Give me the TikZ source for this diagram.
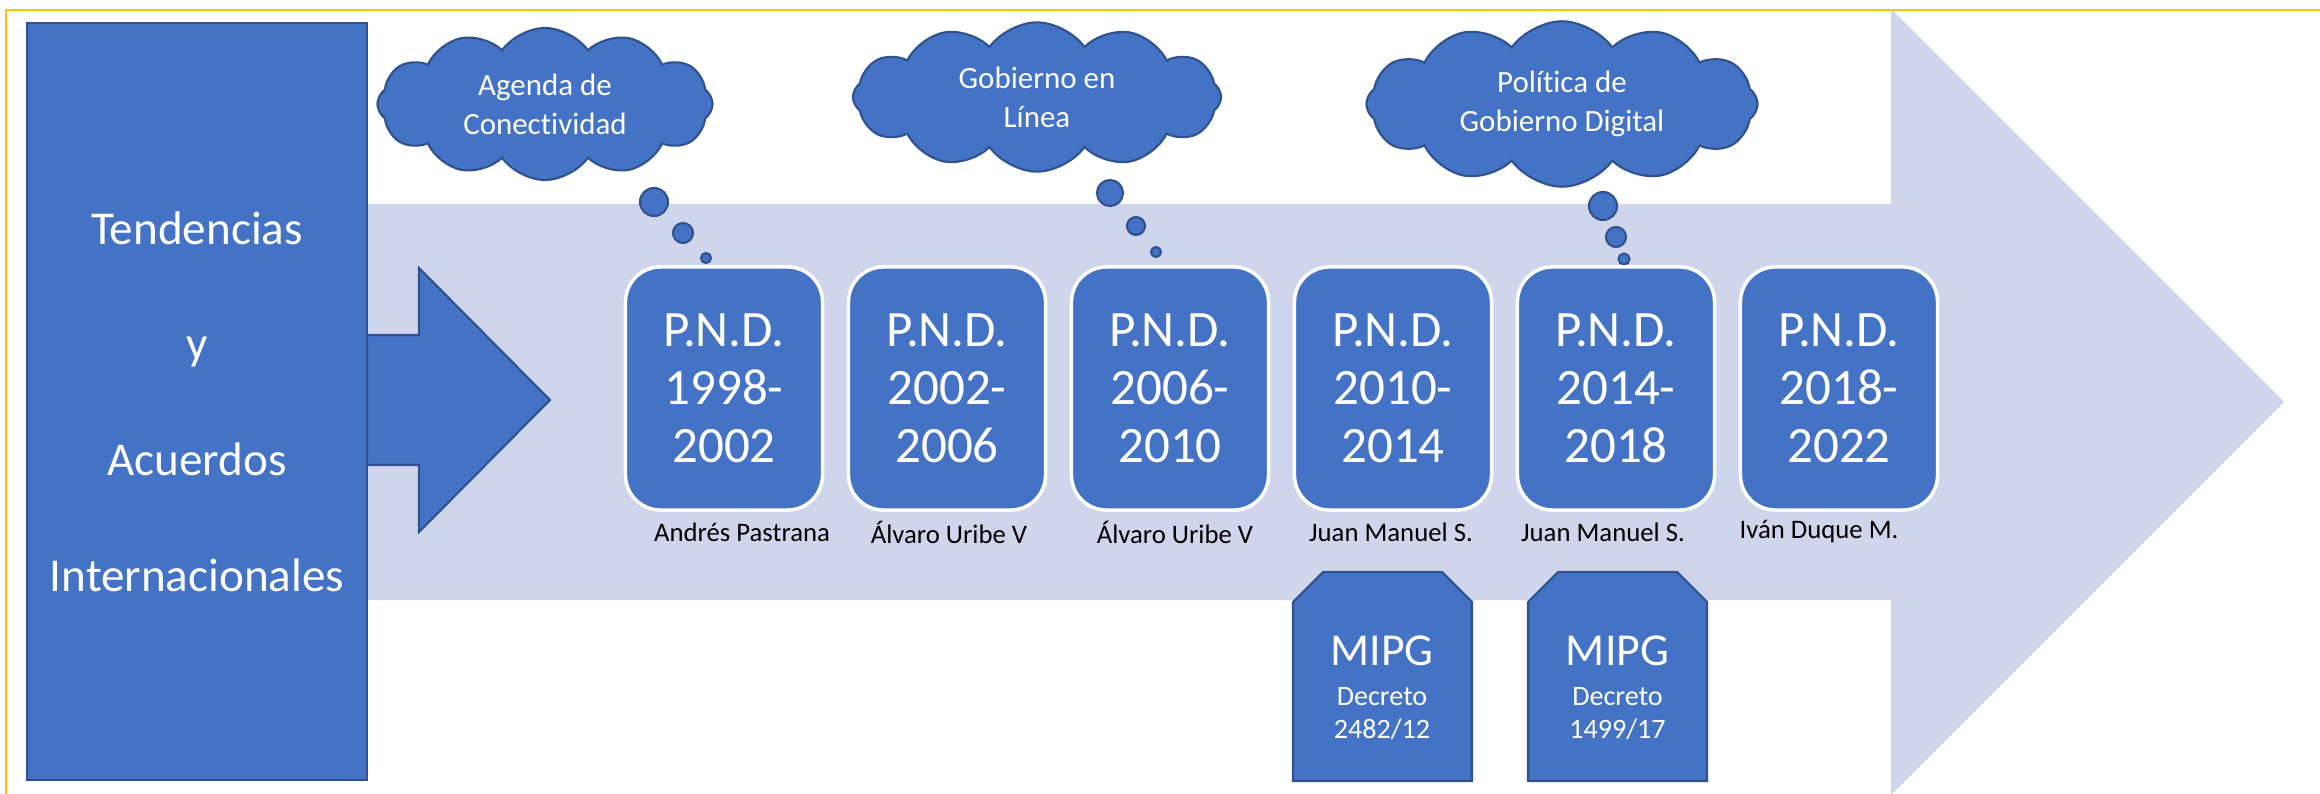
\documentclass[tikz,border=0pt]{standalone}
\usepackage{fontspec}
\setmainfont{Carlito}[Ligatures=NoCommon]
\usetikzlibrary{shapes.symbols}
\definecolor{boxblue}{HTML}{4472C4}
\definecolor{edgeblue}{HTML}{2F528F}
\definecolor{paleblue}{HTML}{CFD5EA}
\definecolor{framegold}{HTML}{FFC000}

\begin{document}
\begin{tikzpicture}[x=0.01cm, y=-0.01cm,
    plan/.style={draw=white, line width=1pt, fill=boxblue, rounded corners=0.35cm,
      minimum width=1.97cm, minimum height=2.43cm, text=white, align=center,
      font=\fontsize{14.5}{16.5}\selectfont},
    who/.style={font=\fontsize{7.6}{9}\selectfont},
    thought/.style={cloud, cloud puffs=12, cloud puff arc=110, cloud ignores aspect,
      draw=edgeblue, line width=0.6pt, fill=boxblue, text=white, align=center,
      font=\fontsize{8.8}{11.1}\selectfont},
    bubble/.style={circle, draw=edgeblue, line width=0.6pt, fill=boxblue, inner sep=0pt},
    decree/.style={draw=edgeblue, line width=0.6pt, fill=boxblue},
    decreetext/.style={text=white, align=center, font=\fontsize{8}{9.4}\selectfont}]
  \useasboundingbox (0,0) rectangle (2320,794);

  \def \Plans {
    1/724/1998-/2002/742/Andrés Pastrana,
    2/947/2002-/2006/949/Álvaro Uribe V,
    3/1170/2006-/2010/1175/Álvaro Uribe V,
    4/1393/2010-/2014/1391/Juan Manuel S.,
    5/1616/2014-/2018/1603/Juan Manuel S.,
    6/1839/2018-/2022/1819/Iván Duque M.}
  \def \Clouds {
    agenda/545/104/3.35/1.52/Agenda de\\Conectividad,
    linea/1037/97/3.68/1.42/Gobierno en\\Línea,
    digital/1562/104/3.91/1.48/Política de\\Gobierno Digital}
  \def \Bubbles {
    a1/654/202/14, a2/683/233/10, a3/706/258/5,
    b1/1110/193/13, b2/1136/226/9, b3/1156/252/5,
    c1/1603/206/14, c2/1616/237/10, c3/1624/259/5.5}

  % marco
  \draw[framegold, line width=0.85pt] (6,794) -- (6,10) -- (2320,10);

  % flecha grande
  \fill[paleblue] (300,204) -- (1891,204) -- (1891,9) -- (2284,402)
    -- (1891,795) -- (1891,600) -- (300,600) -- cycle;

  \node[draw=edgeblue, line width=0.6pt, fill=boxblue, minimum width=3.4cm,
    minimum height=7.57cm, text=white, align=center,
    font=\fontsize{13.4}{32.9}\selectfont] (trends) at (197,401.5)
    {Tendencias\\y\\Acuerdos\\Internacionales};
  \filldraw[draw=edgeblue, line width=0.6pt, fill=boxblue] (367,335) -- (419,335)
    -- (419,268) -- (550,400) -- (419,532) -- (419,465) -- (367,465) -- cycle;

  \foreach \id / \x / \y / \w / \h / \t in \Clouds {
    \node[thought, minimum width=\w cm, minimum height=\h cm] (\id) at (\x,\y) {\t};
  }
  \foreach \id / \x / \y / \r in \Bubbles {
    \node[bubble, minimum size=2*\r*0.01cm] (\id) at (\x,\y) {};
  }
  \foreach \id / \x / \a / \b / \lx / \who in \Plans {
    \node[plan] (pnd\id) at (\x,388.5) {P.N.D.\\\a\\\b};
    \node[who] (who\id) at (\lx,532) {\who};
  }

  % MIPG
  \filldraw[decree] (1293,781) -- (1293,602) -- (1323,572) -- (1442,572)
    -- (1472,602) -- (1472,781) -- cycle;
  \filldraw[decree] (1528,781) -- (1528,602) -- (1558,572) -- (1677,572)
    -- (1707,602) -- (1707,781) -- cycle;
  \node[decreetext] (mipgA) at (1382,688)
    {{\fontsize{13}{15}\selectfont MIPG}\\[2.1pt]Decreto\\2482/12};
  \node[decreetext] (mipgB) at (1617.5,688)
    {{\fontsize{13}{15}\selectfont MIPG}\\[2.1pt]Decreto\\1499/17};
\end{tikzpicture}
\end{document}
